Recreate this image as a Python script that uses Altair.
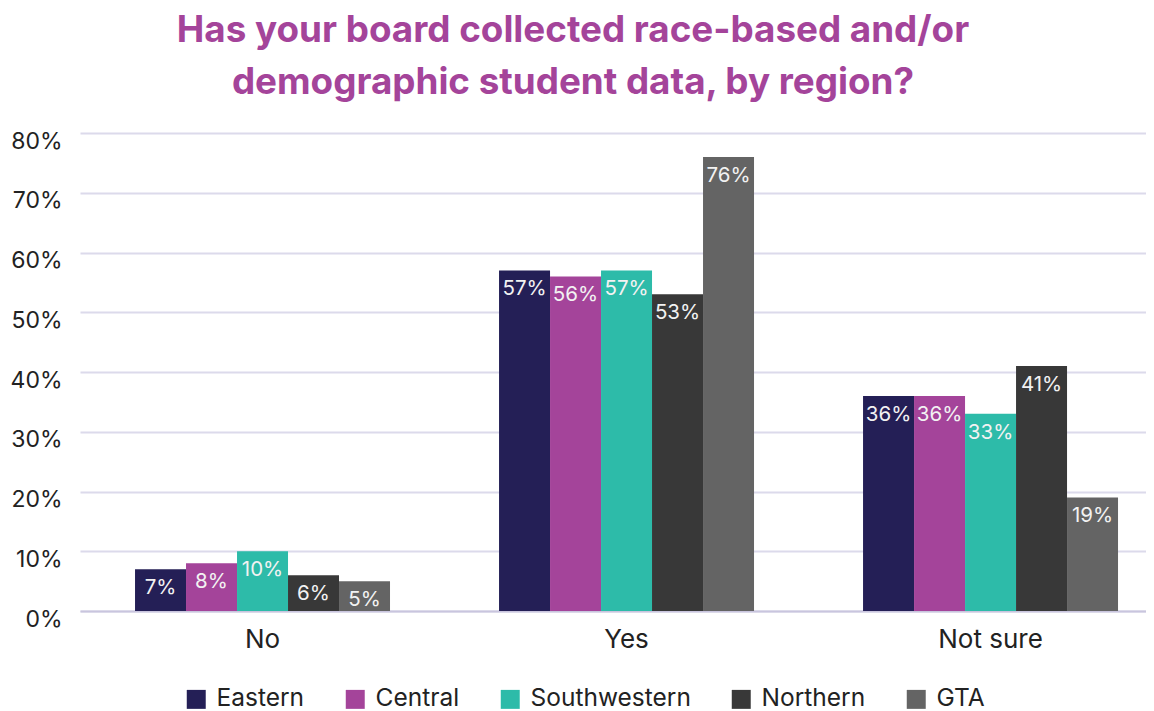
import altair as alt
import pandas as pd

answers = ["No", "Yes", "Not sure"]
regions = ["Eastern", "Central", "Southwestern", "Northern", "GTA"]
colors = ["#241F56", "#A4449A", "#2DBBA9", "#383838", "#646464"]
eastern = [7, 57, 36]
central = [8, 56, 36]
southwestern = [10, 57, 33]
northern = [6, 53, 41]
gta = [5, 76, 19]

series = [eastern, central, southwestern, northern, gta]
rows = []
for reg, vals in zip(regions, series):
    for ans, v in zip(answers, vals):
        rows.append({"answer": ans, "region": reg, "value": v, "label": f"{v}%"})
df = pd.DataFrame(rows)

FONT = "Inter"

x = alt.X("answer:N", sort=answers, title=None,
          scale=alt.Scale(paddingInner=0.2995, paddingOuter=0.114, align=0.663),
          axis=alt.Axis(labelAngle=0, labelFontSize=26, labelColor="#222222", labelFont=FONT,
                        ticks=False, domain=True, domainColor="#C9C5DE", domainWidth=2,
                        labelPadding=15, labelBaseline="top", grid=False))
xo = alt.XOffset("region:N", sort=regions, scale=alt.Scale(paddingInner=0, paddingOuter=0))
y = alt.Y("value:Q", title=None,
          scale=alt.Scale(domain=[0, 80], nice=False),
          axis=alt.Axis(values=list(range(0, 81, 10)), labelExpr="datum.value + '%'",
                        labelFontSize=23, labelColor="#222222", labelFont=FONT,
                        ticks=False, domain=False, gridColor="#DCDAEB", gridWidth=2,
                        labelPadding=18, labelOffset=8))

bars = alt.Chart(df).mark_bar().encode(
    x=x, xOffset=xo, y=y,
    color=alt.Color("region:N", sort=regions,
                    scale=alt.Scale(domain=regions, range=colors),
                    legend=alt.Legend(title=None, orient="none", direction="horizontal",
                                      legendX=104, legendY=554, symbolType="square",
                                      symbolSize=360, symbolStrokeWidth=0, labelFontSize=24.5,
                                      labelFont=FONT, labelColor="#222222", labelOffset=8,
                                      labelLimit=400, columnPadding=38, padding=0)),
)

text = alt.Chart(df).mark_text(baseline="middle", dy=19, fontSize=20.5, font=FONT,
                               color="#F2F2F2").encode(
    x=x, xOffset=xo, y=y, text="label:N")

chart = (bars + text).properties(
    width=1066, height=478,
    autosize=alt.AutoSizeParams(type="none"),
    padding={"left": 72, "top": 125, "right": 0, "bottom": 100},
    title=alt.TitleParams(
        ["Has your board collected race-based and/or", "demographic student data, by region?"],
        fontSize=36.8, font=FONT, fontWeight="bold", color="#A4449A",
        anchor="middle", frame="group", dx=-40, offset=28, lineHeight=52),
).configure_view(stroke=None)

chart.save("out.html", embed_options={"renderer": "svg", "actions": False})
